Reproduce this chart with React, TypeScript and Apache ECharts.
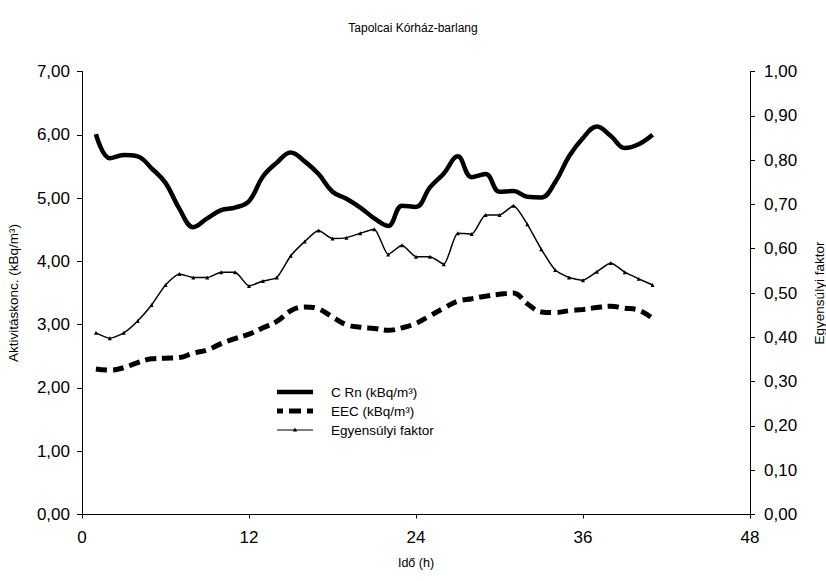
import React, { useEffect, useRef } from "react";
import * as echarts from "echarts";

const hours = [1,2,3,4,5,6,7,8,9,10,11,12,13,14,15,16,17,18,19,20,21,22,23,24,25,26,27,28,29,30,31,32,33,34,35,36,37,38,39,40,41];
const cRn = [6.01,5.63,5.68,5.66,5.47,5.24,4.83,4.54,4.68,4.81,4.85,4.95,5.34,5.56,5.72,5.58,5.38,5.10,4.99,4.85,4.68,4.56,4.88,4.86,5.17,5.39,5.66,5.33,5.38,5.10,5.11,5.02,5.01,5.25,5.66,5.95,6.13,5.98,5.79,5.85,6.00];
const eec = [2.30,2.28,2.32,2.40,2.46,2.47,2.48,2.55,2.60,2.70,2.78,2.85,2.95,3.05,3.22,3.28,3.25,3.12,3.00,2.96,2.94,2.91,2.95,3.02,3.14,3.26,3.37,3.41,3.45,3.48,3.50,3.33,3.20,3.19,3.22,3.24,3.27,3.29,3.26,3.23,3.10];
const factor = [0.410,0.398,0.410,0.437,0.473,0.518,0.543,0.535,0.535,0.547,0.547,0.516,0.527,0.535,0.584,0.616,0.641,0.623,0.625,0.635,0.644,0.587,0.608,0.582,0.582,0.565,0.635,0.633,0.676,0.676,0.697,0.655,0.599,0.552,0.535,0.529,0.548,0.568,0.547,0.532,0.518];

const seriesNames = ["C Rn (kBq/m³)", "EEC (kBq/m³)", "Egyensúlyi faktor"];

const FONT = "Liberation Sans, Arial, sans-serif";
const fmt = (v: number) => v.toFixed(2).replace(".", ",");

export default function App() {
  const ref = useRef<HTMLDivElement>(null);
  useEffect(() => {
    if (!ref.current) return;
    const chart = echarts.init(ref.current, undefined, { renderer: "svg" });
    const pair = (ys: number[]) => hours.map((h, i) => [h, ys[i]]);

    const lgX = 277, lgW = 36, lgTextX = 331;
    const rows = [392, 411, 430];
    const legendGraphic: any[] = [
      {
        type: "line",
        shape: { x1: lgX, y1: rows[0], x2: lgX + lgW, y2: rows[0] },
        style: { stroke: "#000", lineWidth: 4.5 },
      },
      {
        type: "line",
        shape: { x1: lgX, y1: rows[1], x2: lgX + lgW, y2: rows[1] },
        style: { stroke: "#000", lineWidth: 5, lineDash: [6, 6, 12, 6] },
      },
      {
        type: "line",
        shape: { x1: lgX, y1: rows[2], x2: lgX + lgW, y2: rows[2] },
        style: { stroke: "#000", lineWidth: 1.2 },
      },
      {
        type: "polygon",
        shape: { points: [[lgX + lgW / 2, rows[2] - 2.5], [lgX + lgW / 2 - 2.2, rows[2] + 1.5], [lgX + lgW / 2 + 2.2, rows[2] + 1.5]] },
        style: { fill: "#000" },
      },
      ...seriesNames.map((n, i) => ({
        type: "text",
        x: lgTextX,
        y: rows[i],
        style: { text: n, fill: "#000", font: `13.5px ${FONT}`, textVerticalAlign: "middle", verticalAlign: "middle" },
      })),
    ];

    chart.setOption({
      animation: false,
      backgroundColor: "#fff",
      textStyle: { fontFamily: FONT, color: "#000" },
      title: {
        text: "Tapolcai Kórház-barlang",
        left: "center",
        top: 17,
        textStyle: { fontFamily: FONT, fontSize: 12, fontWeight: "normal", color: "#000" },
      },
      grid: { left: 82, right: 76, top: 71.5, bottom: 66.5, containLabel: false, outerBoundsMode: "none" },
      graphic: legendGraphic,
      xAxis: {
        type: "value",
        min: 0,
        max: 48,
        interval: 12,
        name: "Idő (h)",
        nameLocation: "middle",
        nameGap: 42,
        nameTextStyle: { fontFamily: FONT, fontSize: 12.5, color: "#000" },
        axisLine: { show: true, lineStyle: { color: "#000", width: 1 } },
        axisTick: { show: true, length: 4, lineStyle: { color: "#000" } },
        axisLabel: { fontFamily: FONT, fontSize: 17, color: "#000", margin: 14 },
        splitLine: { show: false },
      },
      yAxis: [
        {
          type: "value",
          min: 0,
          max: 7,
          interval: 1,
          position: "left",
          name: "Aktivitáskonc. (kBq/m³)",
          nameLocation: "middle",
          nameRotate: 90,
          nameGap: 62,
          nameTextStyle: { fontFamily: FONT, fontSize: 13.5, color: "#000" },
          axisLine: { show: true, lineStyle: { color: "#000", width: 1 } },
          axisTick: { show: true, length: 5, lineStyle: { color: "#000" } },
          axisLabel: { fontFamily: FONT, fontSize: 17, color: "#000", margin: 12, formatter: fmt },
          splitLine: { show: false },
        },
        {
          type: "value",
          min: 0,
          max: 1,
          interval: 0.1,
          position: "right",
          name: "Egyensúlyi faktor",
          nameLocation: "middle",
          nameRotate: 90,
          nameGap: 62,
          nameTextStyle: { fontFamily: FONT, fontSize: 13.5, color: "#000" },
          axisLine: { show: true, lineStyle: { color: "#000", width: 1 } },
          axisTick: { show: true, length: 5, inside: false, lineStyle: { color: "#000" } },
          axisLabel: { fontFamily: FONT, fontSize: 17, color: "#000", margin: 14, formatter: fmt },
          splitLine: { show: false },
        },
      ],
      series: [
        {
          name: seriesNames[0],
          type: "line",
          yAxisIndex: 0,
          data: pair(cRn),
          smooth: 0.4,
          showSymbol: false,
          symbol: "none",
          lineStyle: { color: "#000", width: 4.5 },
          itemStyle: { color: "#000" },
        },
        {
          name: seriesNames[1],
          type: "line",
          yAxisIndex: 0,
          data: pair(eec),
          smooth: 0.4,
          showSymbol: false,
          symbol: "none",
          lineStyle: { color: "#000", width: 5, type: [11, 6] },
          itemStyle: { color: "#000" },
        },
        {
          name: seriesNames[2],
          type: "line",
          yAxisIndex: 1,
          data: pair(factor),
          smooth: 0.2,
          symbol: "triangle",
          symbolSize: 4,
          lineStyle: { color: "#000", width: 1.5 },
          itemStyle: { color: "#000" },
        },
      ],
    });
    return () => chart.dispose();
  }, []);
  return (
    <div
      ref={ref}
      style={{ position: "fixed", left: 0, top: 0, width: 826, height: 581, background: "#fff" }}
    />
  );
}
